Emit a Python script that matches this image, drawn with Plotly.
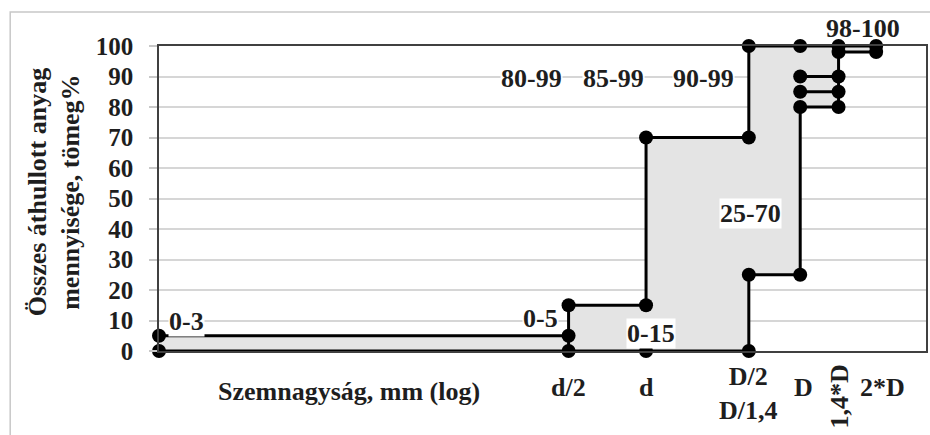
import plotly.graph_objects as go

# ---- data ----
sieve_names = ["0", "d/2", "d", "D/2", "D", "1,4*D", "2*D"]
sieve_pos = [0.0, 53.4, 63.5, 76.9, 83.6, 88.6, 93.5]   # relative log-size position
pos = dict(zip(sieve_names, sieve_pos))

lower_cat = ["0", "d/2", "d", "D/2", "D/2", "D", "D", "1,4*D", "1,4*D", "2*D"]
lower_val = [0, 0, 0, 0, 25, 25, 80, 80, 98, 98]
upper_cat = ["0", "d/2", "d/2", "d", "d", "D/2", "D/2", "D", "1,4*D", "2*D"]
upper_val = [5, 5, 15, 15, 70, 70, 100, 100, 100, 100]

# extra limit segments
extra_segments = [
    (["d/2", "d/2"], [0, 5]),
    (["D", "1,4*D"], [85, 85]),
    (["D", "1,4*D"], [90, 90]),
    (["1,4*D", "1,4*D"], [98, 100]),
]

marker_cat = ["0", "0", "d/2", "d/2", "d/2", "d", "d", "d",
              "D/2", "D/2", "D/2", "D/2", "D", "D", "D", "D", "D",
              "1,4*D", "1,4*D", "1,4*D", "1,4*D", "1,4*D", "2*D", "2*D"]
marker_val = [0, 5, 0, 5, 15, 0, 15, 70,
              0, 25, 70, 100, 25, 80, 85, 90, 100,
              80, 85, 90, 98, 100, 98, 100]

range_labels = ["0-3", "0-5", "0-15", "25-70", "80-99", "85-99", "90-99", "98-100"]
range_label_x = [3.6, 49.8, 64.1, 77.1, 48.6, 59.3, 71.0, 91.8]
range_label_y = [9.8, 10.8, 5.9, 45.2, 89.5, 89.5, 89.5, 105.6]

y_ticks = list(range(0, 101, 10))

FONT = "Liberation Serif"
TXT = "#1e1e1e"
FS = 26

fig = go.Figure()

# filled band
poly_x = [pos[c] for c in lower_cat] + [pos[c] for c in reversed(upper_cat)]
poly_y = lower_val + list(reversed(upper_val))
fig.add_trace(go.Scatter(x=poly_x, y=poly_y, fill="toself", fillcolor="#e4e4e4",
                         mode="none", hoverinfo="skip", showlegend=False))

line_style = dict(color="#000000", width=3)
fig.add_trace(go.Scatter(x=[pos[c] for c in lower_cat], y=lower_val, mode="lines",
                         line=line_style, showlegend=False, cliponaxis=False))
fig.add_trace(go.Scatter(x=[pos[c] for c in upper_cat], y=upper_val, mode="lines",
                         line=line_style, showlegend=False, cliponaxis=False))
for cats, vals in extra_segments:
    fig.add_trace(go.Scatter(x=[pos[c] for c in cats], y=vals, mode="lines",
                             line=line_style, showlegend=False, cliponaxis=False))

fig.add_trace(go.Scatter(x=[pos[c] for c in marker_cat], y=marker_val, mode="markers",
                         marker=dict(color="#000000", size=14), showlegend=False,
                         cliponaxis=False))

annotations = []
for t, x, y in zip(range_labels, range_label_x, range_label_y):
    if y > 100:
        # label above the plot area: place in paper coordinates
        annotations.append(dict(x=x, y=y / 100.0, xref="x", yref="paper", text=t,
                                showarrow=False, xanchor="center", yanchor="middle",
                                font=dict(family=FONT, size=FS, color=TXT, weight="bold")))
    else:
        annotations.append(dict(x=x, y=y, xref="x", yref="y", text=t, showarrow=False,
                                bgcolor="white", borderpad=0, xanchor="center",
                                yanchor="middle",
                                font=dict(family=FONT, size=FS, color=TXT, weight="bold")))

# x category labels
x_label_text = {"d/2": "d/2", "d": "d", "D/2": "D/2<br>D/1,4", "D": "D", "2*D": "2*D"}
x_label_y = {"d/2": -0.121, "d": -0.121, "D/2": -0.138, "D": -0.121, "2*D": -0.121}
x_label_shift = {"d/2": 0, "d": 0, "D/2": 0, "D": 3, "2*D": 6}
for k, t in x_label_text.items():
    annotations.append(dict(x=pos[k], y=x_label_y[k], xref="x", yref="paper", text=t,
                            showarrow=False, xshift=x_label_shift[k],
                            xanchor="center", yanchor="middle",
                            font=dict(family=FONT, size=FS, color=TXT, weight="bold")))
annotations.append(dict(x=pos["1,4*D"], y=-0.151, xref="x", yref="paper", text="1,4*D",
                        textangle=-90, showarrow=False, xanchor="center", yanchor="middle",
                        font=dict(family=FONT, size=FS, color=TXT, weight="bold")))
annotations.append(dict(x=0.248, y=-0.134, xref="paper", yref="paper",
                        text="Szemnagyság, mm (log)", showarrow=False,
                        xanchor="center", yanchor="middle",
                        font=dict(family=FONT, size=FS, color=TXT, weight="bold")))
annotations.append(dict(x=-0.137, y=0.52, xref="paper", yref="paper",
                        text="Összes áthullott anyag<br>mennyisége, tömeg%",
                        textangle=-90, showarrow=False, xanchor="center", yanchor="middle",
                        font=dict(family=FONT, size=FS, color=TXT, weight="bold")))

fig.update_layout(
    width=930, height=435,
    margin=dict(l=159, r=2, t=46, b=84),
    paper_bgcolor="white", plot_bgcolor="white",
    annotations=annotations,
    shapes=[dict(type="rect", xref="paper", yref="paper",
                 x0=-0.194, y0=-0.4, x1=1.2, y1=1.1115,
                 line=dict(color="#c8c8c8", width=1.5), layer="below")],
    xaxis=dict(range=[0, 100], showgrid=False, zeroline=False, showticklabels=False,
               showline=True, linecolor="#404040", linewidth=1.5, mirror=True, ticks=""),
    yaxis=dict(range=[0, 100], tickvals=y_ticks, showgrid=True, gridcolor="#d6d6d6",
               gridwidth=1.5, zeroline=False, showline=True, linecolor="#404040",
               linewidth=1.5, mirror=True, ticks="outside", ticklen=8,
               tickcolor="#c8c8c8", tickwidth=1.5, ticklabelstandoff=11,
               tickfont=dict(family=FONT, size=25, color=TXT, weight="bold")),
)

fig.write_html("out.html", config={"displayModeBar": False},
               post_script="document.body.style.margin='0px';document.body.style.padding='0px';")
